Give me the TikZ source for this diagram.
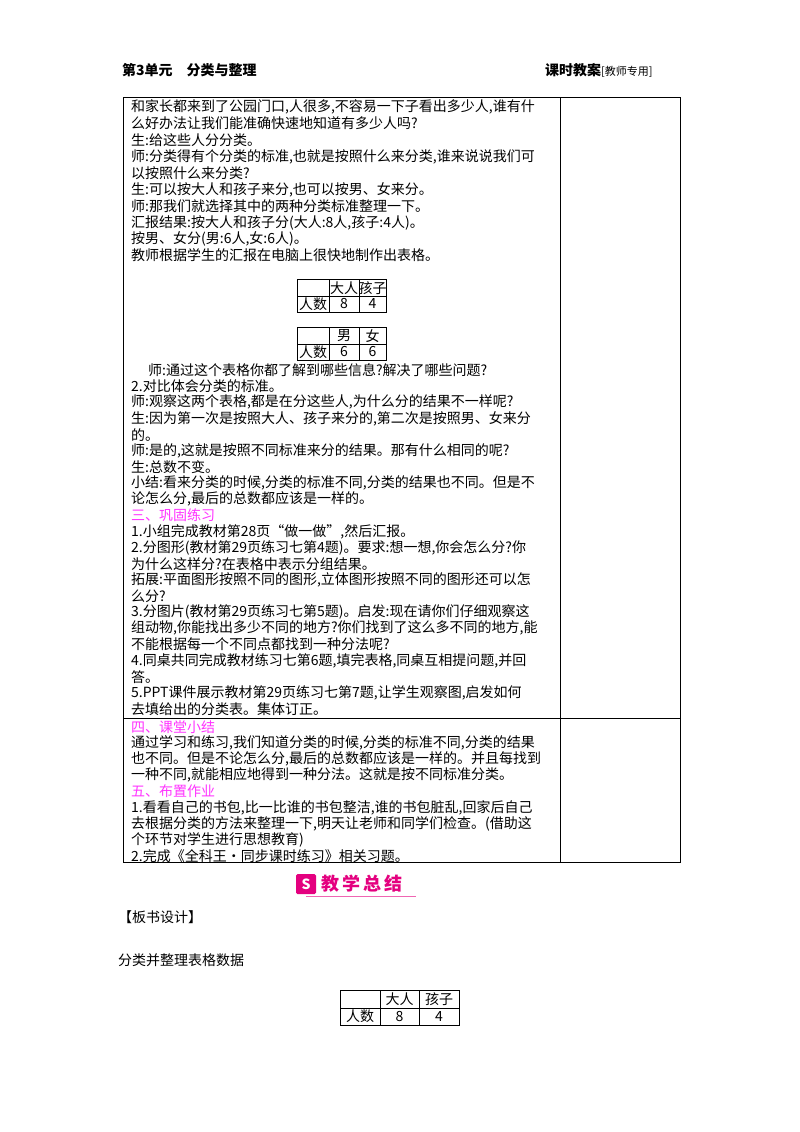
\documentclass[tikz,border=0pt]{standalone}
\usepackage{fontspec}
\setmainfont{Noto Sans CJK SC}
\definecolor{mag}{HTML}{FF33FF}
\definecolor{pinkb}{HTML}{E4007F}
\begin{document}
\begin{tikzpicture}[x=1pt,y=-1pt,
  ln/.style={anchor=west,inner sep=0pt,font=\fontsize{14}{16}\selectfont},
  tc/.style={inner sep=0pt,font=\fontsize{14}{16}\selectfont},
  bd/.style={line width=0.8pt}]
\useasboundingbox (0,0) rectangle (800,1132);
\fill[white] (0,0) rectangle (800,1132);
\node[ln,font=\fontsize{14}{16}\selectfont\bfseries] (h1) at (122,70) {第3单元\quad 分类与整理};
\node[ln,font=\fontsize{14}{16}\selectfont] (h2) at (545,70) {\textbf{课时教案}{\fontsize{11}{12}\selectfont[教师专用]}};
% outer table
\draw[bd] (123,97) rectangle (680,862);
\draw[bd] (560,97) -- (560,862);
\draw[bd] (123,718) -- (680,718);
\foreach \t [count=\i] in {
 {和家长都来到了公园门口,人很多,不容易一下子看出多少人,谁有什},
 {么好办法让我们能准确快速地知道有多少人吗?},
 {生:给这些人分分类。},
 {师:分类得有个分类的标准,也就是按照什么来分类,谁来说说我们可},
 {以按照什么来分类?},
 {生:可以按大人和孩子来分,也可以按男、女来分。},
 {师:那我们就选择其中的两种分类标准整理一下。},
 {汇报结果:按大人和孩子分(大人:8人,孩子:4人)。},
 {按男、女分(男:6人,女:6人)。},
 {教师根据学生的汇报在电脑上很快地制作出表格。}}
 {\node[ln] (a\i) at (131,{107+(\i-1)*16.5}) {\t};}
% small tables
\draw (297,279) rectangle (386,312); \draw (297,296) -- (386,296);
\draw (329,279) -- (329,312); \draw (359,279) -- (359,312);
\node[tc] (t11) at (344,288) {大人}; \node[tc] (t12) at (372.5,288) {孩子};
\node[tc] (t13) at (313,304) {人数}; \node[tc] (t14) at (344,304) {8}; \node[tc] (t15) at (372.5,304) {4};
\draw (297,327) rectangle (386,360); \draw (297,344) -- (386,344);
\draw (329,327) -- (329,360); \draw (359,327) -- (359,360);
\node[tc] (t21) at (344,336) {男}; \node[tc] (t22) at (372.5,336) {女};
\node[tc] (t23) at (313,352) {人数}; \node[tc] (t24) at (344,352) {6}; \node[tc] (t25) at (372.5,352) {6};
\node[ln] (b0) at (148,370) {师:通过这个表格你都了解到哪些信息?解决了哪些问题?};
\foreach \t [count=\i] in {
 {2.对比体会分类的标准。},
 {师:观察这两个表格,都是在分这些人,为什么分的结果不一样呢?},
 {生:因为第一次是按照大人、孩子来分的,第二次是按照男、女来分},
 {的。},
 {师:是的,这就是按照不同标准来分的结果。那有什么相同的呢?},
 {生:总数不变。},
 {小结:看来分类的时候,分类的标准不同,分类的结果也不同。但是不},
 {论怎么分,最后的总数都应该是一样的。},
 {\textcolor{mag}{三、巩固练习}},
 {1.小组完成教材第28页“做一做”,然后汇报。},
 {2.分图形(教材第29页练习七第4题)。要求:想一想,你会怎么分?你},
 {为什么这样分?在表格中表示分组结果。},
 {拓展:平面图形按照不同的图形,立体图形按照不同的图形还可以怎},
 {么分?},
 {3.分图片(教材第29页练习七第5题)。启发:现在请你们仔细观察这},
 {组动物,你能找出多少不同的地方?你们找到了这么多不同的地方,能},
 {不能根据每一个不同点都找到一种分法呢?},
 {4.同桌共同完成教材练习七第6题,填完表格,同桌互相提问题,并回},
 {答。},
 {5.PPT课件展示教材第29页练习七第7题,让学生观察图,启发如何},
 {去填给出的分类表。集体订正。}}
 {\node[ln] (b\i) at (131,{370+\i*16.15}) {\t};}
\foreach \t [count=\i] in {
 {\textcolor{mag}{四、课堂小结}},
 {通过学习和练习,我们知道分类的时候,分类的标准不同,分类的结果},
 {也不同。但是不论怎么分,最后的总数都应该是一样的。并且每找到},
 {一种不同,就能相应地得到一种分法。这就是按不同标准分类。},
 {\textcolor{mag}{五、布置作业}},
 {1.看看自己的书包,比一比谁的书包整洁,谁的书包脏乱,回家后自己},
 {去根据分类的方法来整理一下,明天让老师和同学们检查。(借助这},
 {个环节对学生进行思想教育)},
 {2.完成《全科王·同步课时练习》相关习题。}}
 {\node[ln] (c\i) at (131,{727+(\i-1)*16.1}) {\t};}
% banner
\fill[pinkb,rounded corners=1.5pt] (296,874) rectangle (316,894);
\node[inner sep=0pt,text=white,font=\fontsize{14}{14}\selectfont\bfseries] (ic) at (306,884) {S};
\node[ln,text=pinkb,font=\fontsize{18}{20}\selectfont\bfseries] (bn) at (321,884) {教\,学\,总\,结};
\draw[pinkb!60,line width=0.8pt] (306,896) -- (416,896);
\node[ln] (d1) at (118,917) {【板书设计】};
\node[ln] (d2) at (118,960) {分类并整理表格数据};
% bottom table
\draw (340,990) rectangle (459,1025); \draw (340,1008) -- (459,1008);
\draw (380,990) -- (380,1025); \draw (419,990) -- (419,1025);
\node[tc] (e1) at (399.5,999) {大人}; \node[tc] (e2) at (439,999) {孩子};
\node[tc] (e3) at (360,1016.5) {人数}; \node[tc] (e4) at (399.5,1016.5) {8}; \node[tc] (e5) at (439,1016.5) {4};
\end{tikzpicture}
\end{document}
